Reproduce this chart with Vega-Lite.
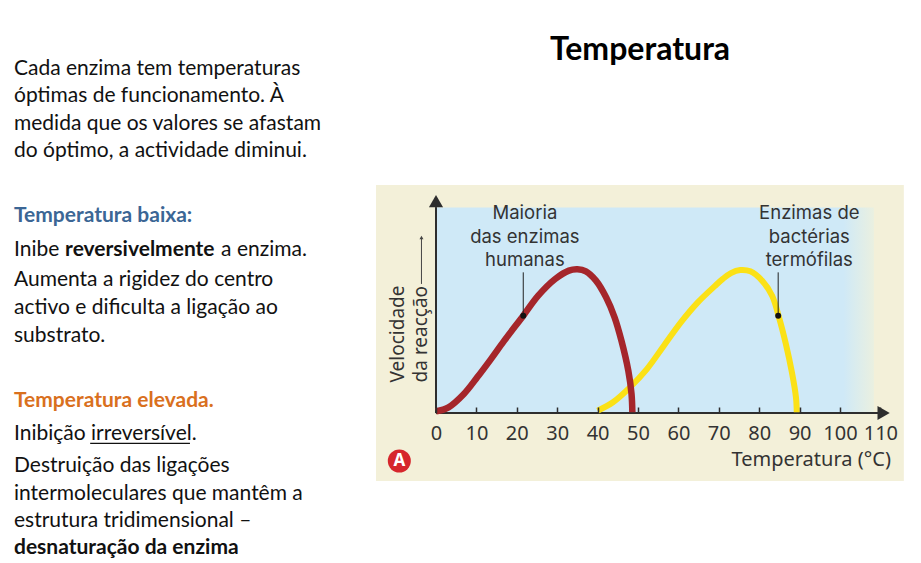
{
"$schema":"https://vega.github.io/schema/vega-lite/v6.json",
"width":921,"height":563,"padding":0,"autosize":{"type":"none"},"background":"#ffffff",
"config":{"view":{"stroke":null},"text":{"font":"Lato"}},
"encoding":{
 "x":{"field":"t","type":"quantitative","title":null,"scale":{"domain":[-107.92,120.05],"nice":false,"zero":false},
  "axis":{"values":[0,10,20,30,40,50,60,70,80,90,100,110],"orient":"bottom","offset":-150,"zindex":1,"domain":false,"grid":false,"tickSize":-6,"tickColor":"#2e2e2e","tickWidth":1.5,"labelFont":"Noto Sans","labelFontSize":20,"labelColor":"#333333","labelPadding":26,"labelBaseline":"middle","labelFlush":false,"labelOverlap":false,"format":"d"}},
 "y":{"field":"v","type":"quantitative","title":null,"scale":{"domain":[-103.45,284.83],"nice":false,"zero":false},"axis":null}
},
"layer":[
 {"data":{"values":[{"t":-14.85,"t2":115.8,"v":-46.9,"v2":157.2}]},"mark":{"type":"rect","color":"#f3f0d9"},"encoding":{"x2":{"field":"t2"},"y2":{"field":"v2"}}},
 {"data":{"values":[{"t":0,"t2":108.4,"v":0,"v2":141.8}]},"mark":{"type":"rect","color":{"gradient":"linear","x1":0,"x2":1,"y1":0,"y2":0,"stops":[{"offset":0,"color":"#cfe9f7"},{"offset":0.93,"color":"#cfe9f7"},{"offset":1,"color":"#eaf0e0"}]}},"encoding":{"x2":{"field":"t2"},"y2":{"field":"v2"}}},
 {"data":{"values":[{"t":0,"v":0,"v2":142}]},"mark":{"type":"rule","color":"#2e2e2e","strokeWidth":2},"encoding":{"y2":{"field":"v2"}}},
 {"data":{"values":[{"t":0,"t2":109.5,"v":0}]},"mark":{"type":"rule","color":"#2e2e2e","strokeWidth":2},"encoding":{"x2":{"field":"t2"}}},
 {"data":{"values":[{"t":0,"v":146.2}]},"mark":{"type":"point","shape":"triangle-up","filled":true,"size":200,"color":"#2e2e2e","opacity":1},"encoding":{}},
 {"data":{"values":[{"t":110.8,"v":0}]},"mark":{"type":"point","shape":"triangle-right","filled":true,"size":200,"color":"#2e2e2e","opacity":1},"encoding":{}},
 {"data":{"values":[{"t":-3.6,"v":89,"v2":120}]},"mark":{"type":"rule","color":"#444444","strokeWidth":1},"encoding":{"y2":{"field":"v2"}}},
 {"data":{"values":[{"t":-3.6,"v":121}]},"mark":{"type":"point","shape":"triangle-up","filled":true,"size":16,"color":"#444444","opacity":1},"encoding":{}},
 {"data":{"values":[
  {"curva":"Enzimas de bactérias termófilas","t":40.0,"v":1.6},{"curva":"Enzimas de bactérias termófilas","t":43.8,"v":7.4},{"curva":"Enzimas de bactérias termófilas","t":48,"v":17.7},{"curva":"Enzimas de bactérias termófilas","t":52.2,"v":30.3},{"curva":"Enzimas de bactérias termófilas","t":56.4,"v":46.4},{"curva":"Enzimas de bactérias termófilas","t":60.6,"v":62.5},{"curva":"Enzimas de bactérias termófilas","t":64.8,"v":76.3},{"curva":"Enzimas de bactérias termófilas","t":69,"v":87.5},{"curva":"Enzimas de bactérias termófilas","t":71,"v":92.5},{"curva":"Enzimas de bactérias termófilas","t":73,"v":96.5},{"curva":"Enzimas de bactérias termófilas","t":75.3,"v":98.6},{"curva":"Enzimas de bactérias termófilas","t":77.8,"v":97.7},{"curva":"Enzimas de bactérias termófilas","t":80.7,"v":91.3},{"curva":"Enzimas de bactérias termófilas","t":83.2,"v":80.9},{"curva":"Enzimas de bactérias termófilas","t":84.9,"v":66},{"curva":"Enzimas de bactérias termófilas","t":86.6,"v":47.6},{"curva":"Enzimas de bactérias termófilas","t":88.1,"v":28},{"curva":"Enzimas de bactérias termófilas","t":89.1,"v":10.8},{"curva":"Enzimas de bactérias termófilas","t":89.3,"v":0.5}]},
  "mark":{"type":"line","color":"#fbe116","strokeWidth":6,"interpolate":"catmull-rom"},"encoding":{}},
 {"data":{"values":[
  {"curva":"Maioria das enzimas humanas","t":0,"v":1.1},{"curva":"Maioria das enzimas humanas","t":3.1,"v":3.9},{"curva":"Maioria das enzimas humanas","t":6.9,"v":13.1},{"curva":"Maioria das enzimas humanas","t":10.2,"v":24.6},{"curva":"Maioria das enzimas humanas","t":13.6,"v":37.2},{"curva":"Maioria das enzimas humanas","t":16.9,"v":49.9},{"curva":"Maioria das enzimas humanas","t":21.6,"v":67.1},{"curva":"Maioria das enzimas humanas","t":25.3,"v":80.9},{"curva":"Maioria das enzimas humanas","t":29.5,"v":92.4},{"curva":"Maioria das enzimas humanas","t":32.9,"v":98.2},{"curva":"Maioria das enzimas humanas","t":35,"v":99.1},{"curva":"Maioria das enzimas humanas","t":37.1,"v":97.7},{"curva":"Maioria das enzimas humanas","t":39.6,"v":91.3},{"curva":"Maioria das enzimas humanas","t":42.1,"v":79.8},{"curva":"Maioria das enzimas humanas","t":44.2,"v":66},{"curva":"Maioria das enzimas humanas","t":45.9,"v":49.9},{"curva":"Maioria das enzimas humanas","t":47.6,"v":29.2},{"curva":"Maioria das enzimas humanas","t":48.4,"v":13.1},{"curva":"Maioria das enzimas humanas","t":48.6,"v":0.5}]},
  "mark":{"type":"line","color":"#a5262b","strokeWidth":6.5,"interpolate":"catmull-rom"},"encoding":{}},
 {"data":{"values":[{"t":21.6,"v":67,"v2":97},{"t":84.7,"v":67,"v2":97}]},"mark":{"type":"rule","color":"#222222","strokeWidth":1},"encoding":{"y2":{"field":"v2"}}},
 {"data":{"values":[{"t":21.6,"v":67},{"t":84.7,"v":67}]},"mark":{"type":"point","filled":true,"size":36,"color":"#111111","opacity":1},"encoding":{}},
 {"data":{"values":[{"t":-9.08,"v":-33.1}]},"mark":{"type":"point","shape":"circle","filled":true,"size":530,"color":"#d6262c","opacity":1},"encoding":{}},
 {"data":{"values":[{"t":-9.08,"v":-33.1,"s":"A"}]},"mark":{"type":"text","font":"Noto Sans","fontWeight":"bold","fontSize":17,"color":"#ffffff","align":"center","baseline":"middle"},"encoding":{"text":{"field":"s"}}},
 {"data":{"values":[
  {"t":22,"v":137.6,"s":"Maioria"},{"t":22,"v":121.6,"s":"das enzimas"},{"t":22,"v":105.6,"s":"humanas"},
  {"t":92.4,"v":137.6,"s":"Enzimas de"},{"t":92.4,"v":121.6,"s":"bactérias"},{"t":92.4,"v":105.6,"s":"termófilas"}]},
  "mark":{"type":"text","font":"Inter","fontSize":18.5,"color":"#333333","align":"center","baseline":"middle"},"encoding":{"text":{"field":"s"}}},
 {"data":{"values":[{"t":112.6,"v":-32.4,"s":"Temperatura (°C)"}]},"mark":{"type":"text","font":"Noto Sans","fontSize":20,"color":"#333333","align":"right","baseline":"middle"},"encoding":{"text":{"field":"s"}}},
 {"data":{"values":[{"t":-9.4,"v":21.1,"s":"Velocidade"},{"t":-3.6,"v":21.1,"s":"da reacção"}]},"mark":{"type":"text","font":"Noto Sans","fontSize":19,"angle":270,"color":"#333333","align":"left","baseline":"middle"},"encoding":{"text":{"field":"s"}}},
 {"data":{"values":[{"t":50.5,"v":250.3,"s":"Temperatura"}]},"mark":{"type":"text","fontWeight":"bold","fontSize":32,"color":"#000000","align":"center","baseline":"middle"},"encoding":{"text":{"field":"s"}}},
 {"data":{"values":[
  {"t":-104.46,"v":237.2,"s":"Cada enzima tem temperaturas"},
  {"t":-104.46,"v":218.6,"s":"óptimas de funcionamento. À"},
  {"t":-104.46,"v":199.3,"s":"medida que os valores se afastam"},
  {"t":-104.46,"v":180.7,"s":"do óptimo, a actividade diminui."},
  {"t":-104.46,"v":112.4,"s":"Inibe"},
  {"t":-53.2,"v":112.4,"s":"a enzima."},
  {"t":-104.46,"v":91.7,"s":"Aumenta a rigidez do centro"},
  {"t":-104.46,"v":72.4,"s":"activo e dificulta a ligação ao"},
  {"t":-104.46,"v":53.1,"s":"substrato."},
  {"t":-104.46,"v":-14.5,"s":"Inibição irreversível."},
  {"t":-104.46,"v":-36.6,"s":"Destruição das ligações"},
  {"t":-104.46,"v":-55.9,"s":"intermoleculares que mantêm a"},
  {"t":-104.46,"v":-74.5,"s":"estrutura tridimensional –"}]},
  "mark":{"type":"text","fontSize":21,"color":"#111111","align":"left","baseline":"middle"},"encoding":{"text":{"field":"s"}}},
 {"data":{"values":[
  {"t":-91.8,"v":112.4,"s":"reversivelmente"},
  {"t":-104.46,"v":-93.1,"s":"desnaturação da enzima"}]},
  "mark":{"type":"text","fontSize":21,"fontWeight":"bold","color":"#111111","align":"left","baseline":"middle"},"encoding":{"text":{"field":"s"}}},
 {"data":{"values":[{"t":-104.46,"v":135.9,"s":"Temperatura baixa:"}]},"mark":{"type":"text","fontSize":21,"fontWeight":"bold","color":"#3b6695","align":"left","baseline":"middle"},"encoding":{"text":{"field":"s"}}},
 {"data":{"values":[{"t":-104.46,"v":8.3,"s":"Temperatura elevada."}]},"mark":{"type":"text","fontSize":21,"fontWeight":"bold","color":"#d9701e","align":"left","baseline":"middle"},"encoding":{"text":{"field":"s"}}},
 {"data":{"values":[{"t":-85.6,"t2":-60.9,"v":-20.9}]},"mark":{"type":"rule","color":"#111111","strokeWidth":1.2},"encoding":{"x2":{"field":"t2"}}}
]
}
